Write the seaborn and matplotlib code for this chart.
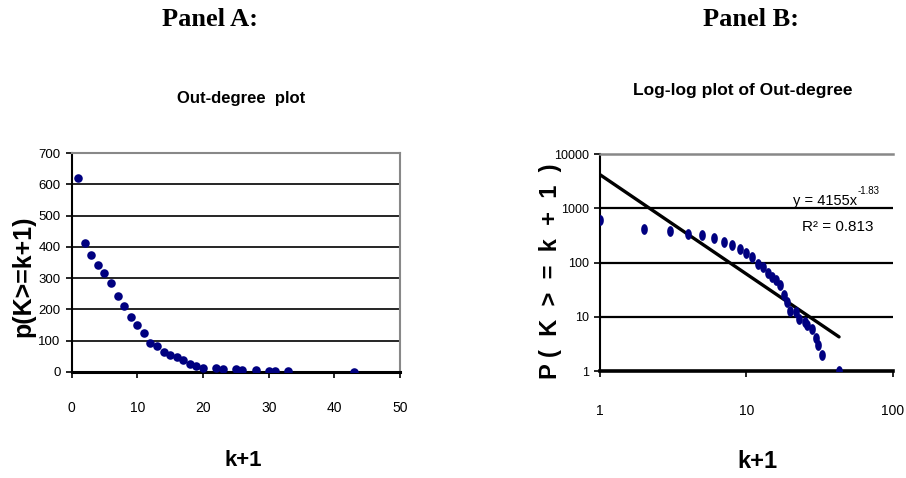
import numpy as np
import matplotlib
matplotlib.use("Agg")
import matplotlib.pyplot as plt
import seaborn as sns

# data
k1 = [1, 2, 3, 4, 5, 6, 7, 8, 9, 10, 11, 12, 13, 14, 15, 16, 17, 18, 19, 20,
      22, 23, 25, 26, 28, 30, 31, 33, 43]
p_ge = [620, 412, 375, 342, 318, 285, 243, 212, 176, 150, 125, 94, 82, 64, 55, 47, 38,
        25, 19, 13, 12, 9, 8, 7, 6, 4, 3, 2, 1]
fit_a = 4155
fit_b = -1.83
fit_r2 = 0.813

a_xticks = [0, 10, 20, 30, 40, 50]
a_yticks = [0, 100, 200, 300, 400, 500, 600, 700]
b_xticks = [1, 10, 100]
b_yticks = [1, 10, 100, 1000, 10000]

sns.set_style("white")
plt.rcParams["font.family"] = ["Liberation Sans", "DejaVu Sans"]
plt.rcParams["text.color"] = "black"
plt.rcParams["xtick.color"] = "black"
plt.rcParams["ytick.color"] = "black"

dot_color = "#000080"

fig = plt.figure(figsize=(9.06, 4.78), dpi=100)

# ---------- Panel A ----------
ax1 = fig.add_axes([0.0791, 0.2218, 0.3624, 0.458])
for v in a_yticks[1:-1]:
    ax1.axhline(v, color="black", lw=1.2, zorder=1)
sns.scatterplot(x=k1, y=p_ge, ax=ax1, color=dot_color, s=38, edgecolor=dot_color,
                linewidth=0, zorder=3)
ax1.set_xlim(0, 50)
ax1.set_ylim(0, 700)
ax1.set_xticks(a_xticks)
ax1.set_yticks(a_yticks)
ax1.tick_params(axis="x", direction="out", length=4, width=1.2,
                pad=17, labelsize=10, bottom=True)
ax1.tick_params(axis="y", direction="out", length=4, width=1.2,
                pad=4, labelsize=9.5, left=True)
ax1.spines["left"].set(color="black", lw=1.5)
ax1.spines["bottom"].set(color="black", lw=2.2)
ax1.spines["top"].set(color="#888888", lw=1.5)
ax1.spines["right"].set(color="#888888", lw=1.5)
ax1.set_xlabel("")
ax1.set_ylabel("")

# ---------- Panel B ----------
ax2 = fig.add_axes([0.6623, 0.2238, 0.323, 0.454])
ax2.set_xscale("log")
ax2.set_yscale("log")
for v in b_yticks[1:-1]:
    ax2.axhline(v, color="black", lw=1.6, zorder=1)

# power-law trendline from the fitted constants shown on the chart
k_arr = np.array(k1, dtype=float)
trend = fit_a * k_arr ** fit_b
sns.lineplot(x=k_arr, y=trend, ax=ax2, color="black", lw=2.4, zorder=2)

theta = np.linspace(0, 2 * np.pi, 40)
ellipse = list(zip(0.62 * np.cos(theta), np.sin(theta)))
sns.scatterplot(x=k1, y=p_ge, ax=ax2, color=dot_color, s=60, marker=ellipse,
                edgecolor=dot_color, linewidth=0, zorder=3)
ax2.set_xlim(1, 100)
ax2.set_ylim(1, 10000)
ax2.set_xticks(b_xticks)
ax2.set_xticklabels([str(v) for v in b_xticks])
ax2.set_yticks(b_yticks)
ax2.set_yticklabels([str(v) for v in b_yticks])
ax2.minorticks_off()
ax2.tick_params(axis="x", direction="out", length=4, width=1.2,
                pad=20, labelsize=10, bottom=True)
ax2.tick_params(axis="y", direction="out", length=4, width=1.2,
                pad=4, labelsize=9, left=True)
ax2.spines["left"].set(color="black", lw=1.5)
ax2.spines["bottom"].set(color="black", lw=2.6)
ax2.spines["top"].set(color="#888888", lw=1.8)
ax2.spines["right"].set_visible(False)
ax2.set_xlabel("")
ax2.set_ylabel("")

# fit equation, superscript drawn as a second small text
fig.text(857 / 906, 1 - 205 / 478, "y = %dx" % fit_a, ha="right", va="baseline",
         fontsize=10.5)
fig.text(858 / 906, 1 - 194 / 478, "%.2f" % fit_b, ha="left", va="baseline",
         fontsize=7)
fig.text(838 / 906, 1 - 231 / 478, "R\u00b2 = %.3f" % fit_r2, ha="center",
         va="baseline", fontsize=11)

# ---------- texts ----------
serif = ["Liberation Serif", "DejaVu Serif"]
fig.text(210 / 906, 1 - 19 / 478, "Panel A:", ha="center", va="center", fontsize=19,
         fontweight="bold", family=serif)
fig.text(751 / 906, 1 - 19 / 478, "Panel B:", ha="center", va="center", fontsize=19,
         fontweight="bold", family=serif)
fig.text(241 / 906, 1 - 98 / 478, "Out-degree  plot", ha="center", va="center",
         fontsize=12, fontweight="bold")
fig.text(743 / 906, 1 - 90 / 478, "Log-log plot of Out-degree", ha="center",
         va="center", fontsize=12.5, fontweight="bold")
fig.text(23 / 906, 1 - 276 / 478, "p(K>=k+1)", ha="center", va="center", rotation=90,
         fontsize=18, fontweight="bold")
fig.text(551 / 906, 1 - 271 / 478, "P (  K  >  =  k  +  1  )", ha="center",
         va="center", rotation=90, fontsize=17, fontweight="bold")
fig.text(243 / 906, 1 - 460 / 478, "k+1", ha="center", va="center", fontsize=16,
         fontweight="bold")
fig.text(757 / 906, 1 - 462 / 478, "k+1", ha="center", va="center", fontsize=17,
         fontweight="bold")

fig.savefig("out.png", dpi=100)
